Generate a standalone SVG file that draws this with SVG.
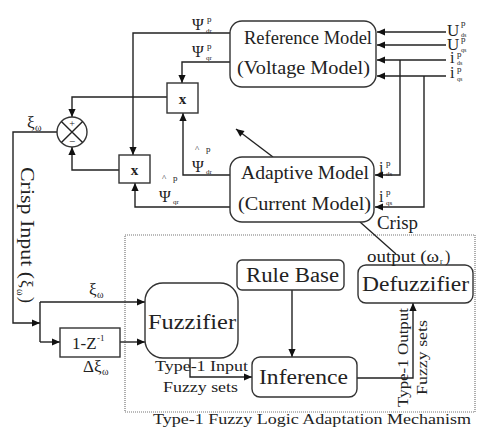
<svg xmlns="http://www.w3.org/2000/svg" width="477" height="427" viewBox="0 0 477 427">
<defs>
<marker id="ah" viewBox="0 0 10 10" refX="10" refY="5" markerWidth="9" markerHeight="8" markerUnits="userSpaceOnUse" orient="auto"><path d="M0,0.5 L10,5 L0,9.5 z" fill="#111"/></marker>
<style>
text{font-family:"Liberation Serif","Times New Roman",serif;fill:#222}
.box{fill:#fff;stroke:#333;stroke-width:1.4}
.ln{fill:none;stroke:#222;stroke-width:1.4}
.ar{fill:none;stroke:#222;stroke-width:1.4;marker-end:url(#ah)}
.big{font-size:18px}
.lg{font-size:22px}
.sm{font-size:15px}
.sup{font-size:9px}
.sub{font-size:7px}
.psi{font-size:16px}
</style>
</defs>
<rect width="477" height="427" fill="#fff"/>

<!-- dotted mechanism frame -->
<rect x="125" y="235" width="350" height="177" fill="none" stroke="#777" stroke-width="1.2" stroke-dasharray="1,1"/>
<text class="sm" x="153" y="424" textLength="318" lengthAdjust="spacingAndGlyphs">Type-1 Fuzzy Logic Adaptation Mechanism</text>

<g id="connectors">
<path class="ar" d="M446,32 H377"/>
<path class="ar" d="M446,45 H377"/>
<path class="ar" d="M446,60 H377"/>
<path class="ar" d="M446,76 H377"/>
<path class="ar" d="M400,60 V175 H375"/>
<path class="ar" d="M424,76 V207 H375"/>
<path class="ar" d="M230,33 H133 V155"/>
<path class="ar" d="M230,62 H182 V83"/>
<path class="ar" d="M167,97 H72 V117"/>
<path class="ar" d="M119,170 H72 V147"/>
<path class="ar" d="M230,175 H183 V113"/>
<path class="ar" d="M230,207 H135 V183"/>
<path class="ar" d="M273,157 L236,129"/>
<path class="ln" d="M360,222 L396,254"/>
<path class="ar" d="M57,132 H13 V323 H40"/>
<path class="ln" d="M40,302 V342"/>
<path class="ar" d="M40,302 H145"/>
<path class="ar" d="M40,342 H60"/>
<path class="ar" d="M120,342 H145"/>
<path class="ar" d="M190,358 V377 H252"/>
<path class="ar" d="M292,290 V357"/>
<path class="ar" d="M357,378 H413 V303"/>
</g>

<g id="reference-model">
<rect class="box" x="230" y="21" width="146" height="66" rx="12"/>
<text class="big" x="244" y="44" textLength="128" lengthAdjust="spacingAndGlyphs">Reference Model</text>
<text class="big" x="237" y="74" textLength="133" lengthAdjust="spacingAndGlyphs">(Voltage Model)</text>
</g>

<g id="adaptive-model">
<rect class="box" x="230" y="157" width="144" height="65" rx="12"/>
<text class="big" x="241" y="179" textLength="128" lengthAdjust="spacingAndGlyphs">Adaptive Model</text>
<text class="big" x="238" y="210" textLength="133" lengthAdjust="spacingAndGlyphs">(Current Model)</text>
</g>

<g id="mult-upper">
<rect class="box" x="167" y="83" width="31" height="30"/>
<text x="182.5" y="104" font-size="15" font-weight="bold" text-anchor="middle">x</text>
</g>
<g id="mult-lower">
<rect class="box" x="119" y="155" width="31" height="28"/>
<text x="134.5" y="175" font-size="15" font-weight="bold" text-anchor="middle">x</text>
</g>

<g id="summer">
<circle class="box" cx="72" cy="132" r="15"/>
<path class="ln" d="M61.4,121.4 L82.6,142.6 M82.6,121.4 L61.4,142.6" stroke-width="1.1"/>
<text x="72" y="127" font-size="10" text-anchor="middle">+</text>
<text x="72" y="145" font-size="11" text-anchor="middle">−</text>
</g>

<g id="delay">
<rect class="box" x="60" y="328" width="60" height="29"/>
<text x="72" y="349" font-size="17">1-Z</text>
<text x="97" y="341" class="sup">-1</text>
</g>

<g id="fuzzifier">
<rect class="box" x="145" y="283" width="93" height="75" rx="18"/>
<text class="lg" x="148" y="329" textLength="88" lengthAdjust="spacingAndGlyphs">Fuzzifier</text>
</g>

<g id="rule-base">
<rect class="box" x="237" y="260" width="107" height="30" rx="5"/>
<text x="246" y="282" font-size="20" textLength="93" lengthAdjust="spacingAndGlyphs">Rule Base</text>
</g>

<g id="inference">
<rect class="box" x="252" y="357" width="105" height="40" rx="8"/>
<text class="lg" x="259" y="384" textLength="89" lengthAdjust="spacingAndGlyphs">Inference</text>
</g>

<g id="defuzzifier">
<rect class="box" x="358" y="265" width="115" height="38" rx="8"/>
<text class="lg" x="362" y="291" textLength="107" lengthAdjust="spacingAndGlyphs">Defuzzifier</text>
</g>

<g id="labels">
<text x="447" y="36" font-size="17">U</text><text x="461" y="26" class="sup">p</text><text x="461" y="37" font-size="6">ds</text>
<text x="447" y="50" font-size="17">U</text><text x="461" y="42" class="sup">p</text><text x="461" y="52" font-size="6">qs</text>
<text x="450" y="63" font-size="16">i</text><text x="457" y="57" class="sup">p</text><text x="457" y="65" font-size="6">ds</text>
<text x="450" y="78" font-size="16">i</text><text x="457" y="72" class="sup">p</text><text x="457" y="81" font-size="6">qs</text>
<text x="379" y="173" font-size="16">i</text><text x="386" y="166" class="sup">p</text><text x="386" y="176" class="sub">ds</text>
<text x="379" y="202" font-size="16">i</text><text x="386" y="195" class="sup">p</text><text x="386" y="205" class="sub">qs</text>
<text x="192" y="30" class="psi">Ψ</text><text x="207" y="22" class="sup">p</text><text x="206" y="33" class="sub">dr</text>
<text x="192" y="57" class="psi">Ψ</text><text x="207" y="49" class="sup">p</text><text x="206" y="60" class="sub">qr</text>
<text x="195" y="152" font-size="9">^</text><text x="206" y="152" class="sup">p</text>
<text x="192" y="172" class="psi">Ψ</text><text x="206" y="174" class="sub">dr</text>
<text x="162" y="181" font-size="9">^</text><text x="173" y="181" class="sup">p</text>
<text x="159" y="202" class="psi">Ψ</text><text x="173" y="204" class="sub">qr</text>
<text x="27" y="128" font-size="17">ξ</text><text x="35" y="131" font-size="10">ω</text>
<g transform="translate(21,0) rotate(90)">
<text x="167" y="0" font-size="18" textLength="112" lengthAdjust="spacingAndGlyphs">Crisp Input (</text>
<text x="280" y="0" font-size="17">ξ</text>
<text x="289" y="4" font-size="10">ω</text>
<text x="297" y="0" font-size="18">)</text>
</g>
<text x="89" y="295" font-size="17">ξ</text><text x="97" y="298" font-size="10">ω</text>
<text x="83" y="372" font-size="17">Δξ</text><text x="102" y="375" font-size="10">ω</text>
<text class="sm" x="155" y="371" textLength="93" lengthAdjust="spacingAndGlyphs">Type-1 Input</text>
<text class="sm" x="163" y="392" textLength="75" lengthAdjust="spacingAndGlyphs">Fuzzy sets</text>
<text x="377" y="229" font-size="18" textLength="41" lengthAdjust="spacingAndGlyphs">Crisp</text>
<text x="367" y="262" font-size="16" textLength="72" lengthAdjust="spacingAndGlyphs">output (ω</text>
<text x="440" y="264" font-size="8">r</text>
<text x="445" y="262" font-size="16">)</text>
<g transform="translate(408,0) rotate(-90)">
<text class="sm" x="-407" y="0" textLength="99" lengthAdjust="spacingAndGlyphs">Type-1 Output</text>
</g>
<g transform="translate(427,0) rotate(-90)">
<text class="sm" x="-395" y="0" textLength="75" lengthAdjust="spacingAndGlyphs">Fuzzy sets</text>
</g>
</g>
</svg>
